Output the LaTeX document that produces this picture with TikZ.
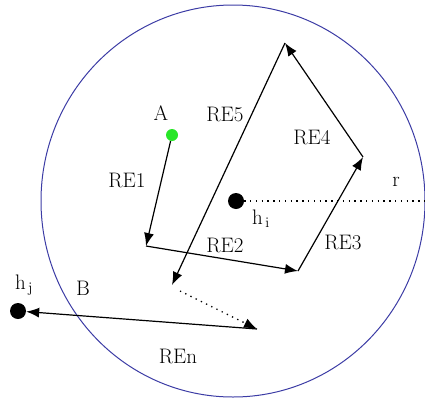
\documentclass[tikz,border=0pt]{standalone}
\usepackage{tikz}
\usepackage{xcolor}
\usetikzlibrary{arrows.meta, positioning, calc}
\definecolor{rimblue}{RGB}{60,60,165}
\definecolor{startgreen}{RGB}{40,230,40}

\begin{document}
\begin{tikzpicture}[
    x=1pt, y=-1pt,
    hop/.style={line width=1.2pt, -{Latex[length=13pt,width=10pt]}},
    hopdot/.style={line width=1.3pt, dash pattern=on 1.3pt off 4.5pt, -{Latex[length=13pt,width=10pt]}},
    lbl/.style={font=\fontsize{21}{24}\selectfont, inner sep=0pt},
    host/.style={circle, fill=black, minimum size=16pt, inner sep=0pt},
    src/.style={circle, fill=startgreen, minimum size=12pt, inner sep=0pt}
  ]
    \useasboundingbox (0,0) rectangle (425,399);
    \draw[rimblue, line width=1pt] (233,201) ellipse (192 and 196);

    % route corners
    \coordinate (c1) at (146,246);
    \coordinate (c2) at (298,271);
    \coordinate (c3) at (363,157);
    \coordinate (c4) at (285,43);
    \coordinate (c5) at (172,285);
    \coordinate (c6) at (257,329);
    \coordinate (d0) at (180,291);
    \coordinate (rend) at (425,201);

    \node[src] (A) at (172,135) {};
    \node[host] (hi) at (236,201) {};
    \node[host] (hj) at (18,311) {};

    \draw[hop] (A) -- (c1);
    \draw[hop] (c1) -- (c2);
    \draw[hop] (c2) -- (c3);
    \draw[hop] (c3) -- (c4);
    \draw[hop] (c4) -- (c5);
    \draw[hopdot] (d0) -- (c6);
    \draw[hop] (c6) -- (hj);
    \draw[line width=1.3pt, dash pattern=on 1.3pt off 4.5pt] (hi.east) -- (rend);

    \node[lbl] (lA) at (161,113) {A};
    \node[lbl] (l1) at (127,180) {RE1};
    \node[lbl] (l2) at (225,245) {RE2};
    \node[lbl] (l3) at (343,242) {RE3};
    \node[lbl] (l4) at (312,137) {RE4};
    \node[lbl] (l5) at (225,114) {RE5};
    \node[lbl] (ln) at (178,356) {REn};
    \node[lbl] (lB) at (83,288) {B};
    \node[lbl] (lr) at (396,182) {r};
    \node[lbl] (lhi) at (261,219) {h$_{\,\mathrm{i}}$};
    \node[lbl] (lhj) at (24,285) {h$_{\,\mathrm{j}}$};
  \end{tikzpicture}
\end{document}
